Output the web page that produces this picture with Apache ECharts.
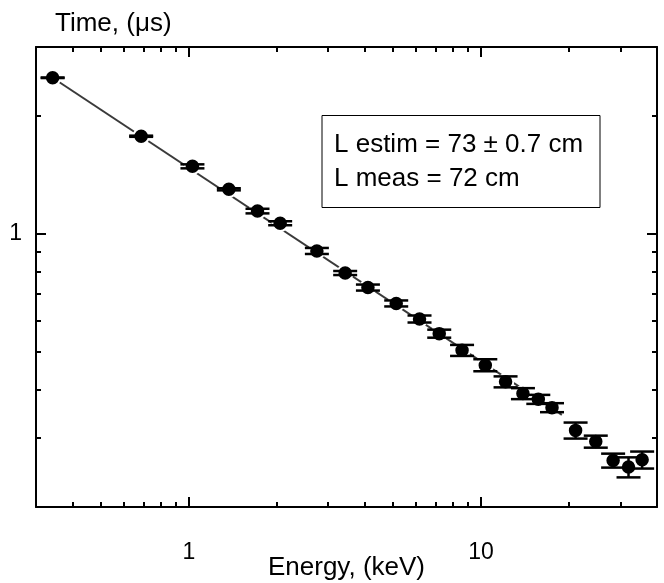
<!DOCTYPE html>
<html>
<head>
<meta charset="utf-8">
<script src="https://cdn.jsdelivr.net/npm/echarts@6/dist/echarts.min.js"></script>
<style>
html,body{margin:0;padding:0;background:#fff;}
#chart{width:664px;height:583px;}
</style>
</head>
<body>
<div id="chart"></div>
<script>
// ---- Data ----
const energy  = [0.342, 0.687, 1.029, 1.371, 1.718, 2.054, 2.743, 3.428, 4.101, 5.125, 6.158, 7.193, 8.61, 10.34, 12.13, 13.91, 15.70, 17.49, 21.06, 24.69, 28.31, 31.96, 35.58];
const time    = [2.503, 1.774, 1.486, 1.298, 1.142, 1.063, 0.903, 0.793, 0.728, 0.663, 0.605, 0.555, 0.503, 0.461, 0.418, 0.390, 0.377, 0.359, 0.314, 0.294, 0.263, 0.253, 0.264];
const timeErr = [0.004, 0.006, 0.0175, 0.008, 0.0155, 0.0125, 0.016, 0.0094, 0.0129, 0.0117, 0.0125, 0.0131, 0.0163, 0.0163, 0.0135, 0.0126, 0.010, 0.0095, 0.0148, 0.0104, 0.0108, 0.0149, 0.0132];
const fitEnergy = [0.342, 18.9];
const fitTime   = [2.503, 0.344];
const xMajorTicks = [1, 10];
const xMinorTicks = [0.4, 0.5, 0.6, 0.7, 0.8, 0.9, 2, 3, 4, 5, 6, 7, 8, 9, 20, 30];
const yMajorTicks = [1];
const yMinorTicks = [0.3, 0.4, 0.5, 0.6, 0.7, 0.8, 0.9, 2];
const legendLines = ['L estim = 73 \u00b1 0.7 cm', 'L meas = 72 cm'];
const xTitle = 'Energy, (keV)';
const yTitle = 'Time, (\u03bcs)';

const FONT = 'Liberation Sans, Arial, Helvetica, sans-serif';
const chart = echarts.init(document.getElementById('chart'), null, {renderer: 'canvas'});

function xAx(pos, major, showLine, showLabel, extra) {
  return Object.assign({
    type: 'log', logBase: 10, min: 0.3, max: 40, position: pos,
    splitLine: {show: false},
    axisLine: {show: showLine, lineStyle: {color: '#000', width: 2}},
    axisTick: {show: true, inside: true, length: major ? 10 : 5,
               customValues: major ? xMajorTicks : xMinorTicks,
               lineStyle: {color: '#000', width: 2}},
    axisLabel: {show: showLabel, customValues: xMajorTicks, color: '#000',
                fontSize: 23, fontFamily: FONT, margin: 34}
  }, extra || {});
}
function yAx(pos, major, showLine, showLabel, extra) {
  return Object.assign({
    type: 'log', logBase: 10, min: 0.2, max: 3, position: pos,
    splitLine: {show: false},
    axisLine: {show: showLine, lineStyle: {color: '#000', width: 2}},
    axisTick: {show: true, inside: true, length: major ? 10 : 5,
               customValues: major ? yMajorTicks : yMinorTicks,
               lineStyle: {color: '#000', width: 2}},
    axisLabel: {show: showLabel, customValues: yMajorTicks, color: '#000',
                fontSize: 23, fontFamily: FONT, margin: 14}
  }, extra || {});
}

const errData = energy.map((e, i) => [e, time[i] - timeErr[i], time[i] + timeErr[i]]);
const ptData = energy.map((e, i) => [e, time[i]]);
const fitData = fitEnergy.map((e, i) => [e, fitTime[i]]);

const option = {
  animation: false,
  backgroundColor: '#fff',
  grid: {left: 36, top: 47, right: 7, bottom: 76, containLabel: false, outerBoundsMode: 'none'},
  xAxis: [
    xAx('bottom', true, true, true, {
      name: xTitle, nameLocation: 'middle', nameGap: 48, nameMoveOverlap: false,
      nameTextStyle: {fontSize: 26, fontFamily: FONT, color: '#000', lineHeight: 26}
    }),
    xAx('bottom', false, false, false),
    xAx('top', true, true, false),
    xAx('top', false, false, false)
  ],
  yAxis: [
    yAx('left', true, true, true, {
      name: yTitle, nameLocation: 'end', nameGap: 10, nameMoveOverlap: false,
      nameTextStyle: {fontSize: 26, fontFamily: FONT, color: '#000', lineHeight: 26,
                      align: 'left', verticalAlign: 'bottom', padding: [0, 0, 0, 19]}
    }),
    yAx('left', false, false, false),
    yAx('right', true, true, false),
    yAx('right', false, false, false)
  ],
  series: [
    {
      type: 'line', name: 'fit', xAxisIndex: 0, yAxisIndex: 0, data: fitData,
      symbol: 'none', z: 1,
      lineStyle: {color: '#3a3a3a', width: 2}
    },
    {
      type: 'scatter', name: 'data', xAxisIndex: 0, yAxisIndex: 0, data: ptData,
      symbol: 'circle', symbolSize: 15.5, z: 2,
      itemStyle: {color: '#000', borderColor: '#fff', borderWidth: 2, opacity: 1}
    },
    {
      type: 'custom', name: 'error', xAxisIndex: 0, yAxisIndex: 0, data: errData, z: 3,
      renderItem: function (params, api) {
        const x = api.value(0);
        const pLo = api.coord([x, api.value(1)]);
        const pHi = api.coord([x, api.value(2)]);
        const hw = 12;
        const st = {stroke: '#000', lineWidth: 2.5};
        return {
          type: 'group',
          children: [
            {type: 'line', shape: {x1: pLo[0], y1: pLo[1], x2: pHi[0], y2: pHi[1]}, style: st},
            {type: 'line', shape: {x1: pLo[0] - hw, y1: pLo[1], x2: pLo[0] + hw, y2: pLo[1]}, style: st},
            {type: 'line', shape: {x1: pHi[0] - hw, y1: pHi[1], x2: pHi[0] + hw, y2: pHi[1]}, style: st}
          ]
        };
      }
    }
  ],
  graphic: [
    {type: 'rect', shape: {x: 322, y: 115.5, width: 278, height: 92},
     style: {fill: '#fff', stroke: '#000', lineWidth: 1}, z: 10},
    {type: 'text', x: 334, y: 145, z: 11,
     style: {text: legendLines[0], font: '26px ' + FONT, fill: '#000', textVerticalAlign: 'middle', verticalAlign: 'middle'}},
    {type: 'text', x: 334, y: 179, z: 11,
     style: {text: legendLines[1], font: '26px ' + FONT, fill: '#000', textVerticalAlign: 'middle', verticalAlign: 'middle'}}
  ]
};
chart.setOption(option);
</script>
</body>
</html>
